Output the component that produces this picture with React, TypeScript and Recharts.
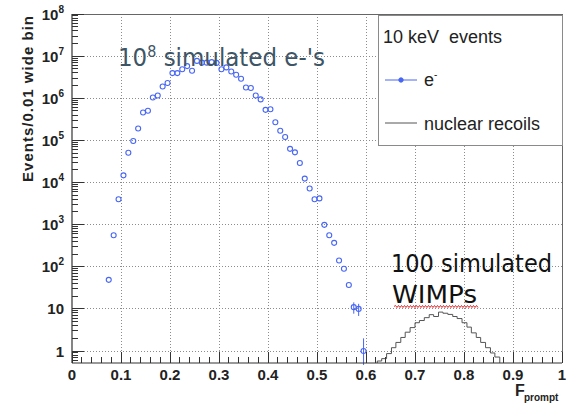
import React from 'react';
import {
  ComposedChart,
  Scatter,
  Line,
  XAxis,
  YAxis,
  ReferenceLine,
  ErrorBar,
  Legend,
} from 'recharts';

// ---------------- data ----------------
const eBinCenters = [
  0.075, 0.085, 0.095, 0.105, 0.115, 0.125, 0.135, 0.145, 0.155, 0.165,
  0.175, 0.185, 0.195, 0.205, 0.215, 0.225, 0.235, 0.245, 0.255, 0.265,
  0.275, 0.285, 0.295, 0.305, 0.315, 0.325, 0.335, 0.345, 0.355, 0.365,
  0.375, 0.385, 0.395, 0.405, 0.415, 0.425, 0.435, 0.445, 0.455, 0.465,
  0.475, 0.485, 0.495, 0.505, 0.515, 0.525, 0.535, 0.545, 0.555, 0.565,
  0.575, 0.585, 0.595,
];
const eCounts = [
  49, 560, 4000, 14800, 51000, 97000, 192000, 461000, 506000, 1040000,
  1160000, 1900000, 2300000, 3950000, 3950000, 4900000, 5800000, 4500000, 7700000, 7000000,
  7000000, 7200000, 6900000, 4900000, 5400000, 4300000, 3600000, 2900000, 1800000, 1750000,
  1160000, 940000, 530000, 550000, 270000, 170000, 120000, 63000, 52000, 29000,
  12400, 7200, 4000, 4200, 990, 560, 370, 141, 90, 37,
  11, 10, 1,
];
// visible error bars (only the low-count bins show them)
const eErrBins = [0.575, 0.585, 0.595];
const eErrValues = [3.3, 3.2, 1];

const nrEdges = [
  0.623, 0.632, 0.642, 0.652, 0.661, 0.671, 0.68, 0.69, 0.7, 0.709,
  0.719, 0.729, 0.738, 0.748, 0.757, 0.767, 0.777, 0.786, 0.796, 0.806,
  0.815, 0.825, 0.834, 0.844, 0.854, 0.863, 0.873,
];
const nrCounts = [
  0.58, 0.66, 0.87, 1.2, 1.6, 2.1, 2.8, 3.6, 4.7, 5.3,
  6.2, 7.3, 6.6, 8.4, 7.9, 7.4, 6.6, 5.9, 4.7, 3.7,
  2.7, 2.1, 1.6, 1.2, 0.9, 0.72,
];

const xTickLabels = ['0', '0.1', '0.2', '0.3', '0.4', '0.5', '0.6', '0.7', '0.8', '0.9', '1'];
const xMajorValues = [0, 0.1, 0.2, 0.3, 0.4, 0.5, 0.6, 0.7, 0.8, 0.9, 1];
const yTickLabels = ['1', '10', '10^2', '10^3', '10^4', '10^5', '10^6', '10^7', '10^8'];
const yMajorValues = [1, 10, 1e2, 1e3, 1e4, 1e5, 1e6, 1e7, 1e8];

const legendTitle = '10 keV  events';
const seriesNames = ['e', 'nuclear recoils'];
const annotationTop = ['10', '8', " simulated e-'s"];
const annotationWimp = ['100 simulated', 'WIMPs'];

// ---------------- styling/layout ----------------
const W = 577;
const H = 403;
const Y_MIN = 0.52;
const Y_MAX = 1e8;
const E_COLOR = '#4866f4';
const NR_COLOR = '#555555';
const AXIS_COLOR = '#333333';
const GRID_COLOR = '#8c8c8c';
const FONT = '"Liberation Sans", Arial, Helvetica, sans-serif';
const COMIC = '"Comic Sans MS", "DejaVu Sans", sans-serif';

const eData = eBinCenters.map((x, i) => {
  const k = eErrBins.indexOf(x);
  const y = eCounts[i];
  let err: number[] = [0, 0];
  if (k >= 0) {
    const e = eErrValues[k];
    err = [Math.min(e, y - Y_MIN * 0.9), e];
  }
  return { x, y, err };
});

const nrData = [
  { x: nrEdges[0], y: Y_MIN },
  ...nrCounts.map((c, i) => ({ x: nrEdges[i], y: c })),
  { x: nrEdges[nrEdges.length - 1], y: nrCounts[nrCounts.length - 1] },
  { x: nrEdges[nrEdges.length - 1], y: Y_MIN },
];

const xTicks: number[] = [];
for (let i = 0; i <= 50; i++) xTicks.push(i / 50);

const yTicks: number[] = [];
for (let k = -1; k <= 7; k++) {
  for (let m = 1; m <= 9; m++) {
    const v = m * Math.pow(10, k);
    if (v >= Y_MIN && v <= Y_MAX) yTicks.push(v);
  }
}
yTicks.push(Y_MAX);

const XTick = (props: any) => {
  const { x, y, payload } = props;
  const idx = Math.round(payload.value * 50);
  const major = idx % 5 === 0;
  return (
    <g>
      <line x1={x} x2={x} y1={y} y2={y - (major ? 11 : 6)} stroke={AXIS_COLOR} strokeWidth={1} shapeRendering="crispEdges" />
      {major && (
        <text x={x} y={y + 17} textAnchor="middle" fontFamily={FONT} fontWeight="bold" fontSize={15} fill="#222">
          {xTickLabels[idx / 5]}
        </text>
      )}
    </g>
  );
};

const YTick = (props: any) => {
  const { x, y, payload } = props;
  const v = payload.value;
  const lg = Math.log10(v);
  const major = Math.abs(lg - Math.round(lg)) < 1e-6;
  let label: React.ReactNode = null;
  if (major) {
    const idx = yMajorValues.findIndex((m) => Math.abs(Math.log10(m) - lg) < 1e-6);
    const parts = yTickLabels[idx].split('^');
    label = (
      <text x={x - 8} y={y + 5.5} textAnchor="end" fontFamily={FONT} fontWeight="bold" fontSize={15} fill="#222">
        <tspan>{parts[0]}</tspan>
        {parts[1] && (
          <tspan dy={-7} fontSize={10}>
            {parts[1]}
          </tspan>
        )}
      </text>
    );
  }
  return (
    <g>
      <line x1={x} x2={x + (major ? 12 : 6)} y1={y} y2={y} stroke={AXIS_COLOR} strokeWidth={1} shapeRendering="crispEdges" />
      {label}
    </g>
  );
};

const renderLegend = () => (
  <div style={{ width: 185, height: 131, background: '#fff', boxSizing: 'border-box', border: '1px solid #8a8a8a' }}>
    <svg width={183} height={129} style={{ display: 'block' }}>
      <text x={4} y={27} fontFamily={FONT} fontSize={18} fill="#222" style={{ whiteSpace: 'pre' }}>
        {legendTitle}
      </text>
      <line x1={6} x2={38} y1={64} y2={64} stroke={E_COLOR} strokeWidth={1} />
      <circle cx={22} cy={64} r={2.2} fill={E_COLOR} stroke={E_COLOR} />
      <text x={45} y={70} fontFamily={FONT} fontSize={18} fill="#222">
        {seriesNames[0]}
        <tspan dy={-8} fontSize={10}>
          -
        </tspan>
      </text>
      <line x1={6} x2={38} y1={107} y2={107} stroke={NR_COLOR} strokeWidth={1} />
      <text x={45} y={114} fontFamily={FONT} fontSize={18} fill="#222">
        {seriesNames[1]}
      </text>
    </svg>
  </div>
);

function wavyPath(x0: number, x1: number, y: number) {
  let d = `M${x0},${y}`;
  let up = true;
  for (let x = x0 + 1.5; x <= x1; x += 1.5) {
    d += ` L${x.toFixed(1)},${(y + (up ? -1 : 1)).toFixed(1)}`;
    up = !up;
  }
  return d;
}

export default function App() {
  return (
    <div style={{ position: 'absolute', left: 0, top: 0, width: W, height: H, background: '#fff' }}>
      <ComposedChart width={W} height={H} margin={{ top: 14, right: 15, bottom: 0, left: 0 }}>
        <XAxis
          type="number"
          dataKey="x"
          domain={[0, 1]}
          allowDataOverflow
          ticks={xTicks}
          interval={0}
          tick={<XTick />}
          tickSize={0}
          tickMargin={0}
          tickLine={false}
          axisLine={{ stroke: AXIS_COLOR, strokeWidth: 1.2 }}
          height={40}
        />
        <YAxis
          type="number"
          dataKey="y"
          scale="log"
          domain={[Y_MIN, Y_MAX]}
          allowDataOverflow
          ticks={yTicks}
          interval={0}
          tick={<YTick />}
          tickSize={0}
          tickMargin={0}
          tickLine={false}
          axisLine={{ stroke: AXIS_COLOR, strokeWidth: 1.2 }}
          width={72}
        />
        {xMajorValues.slice(1, 10).map((v) => (
          <ReferenceLine
            key={'gx' + v}
            x={v}
            stroke={GRID_COLOR}
            strokeDasharray="1 2"
            strokeWidth={1}
            shapeRendering="crispEdges"
            ifOverflow="visible"
          />
        ))}
        {yMajorValues.slice(0, 8).map((v) => (
          <ReferenceLine
            key={'gy' + v}
            y={v}
            stroke={GRID_COLOR}
            strokeDasharray="1 2"
            strokeWidth={1}
            shapeRendering="crispEdges"
            ifOverflow="visible"
          />
        ))}
        <ReferenceLine y={Y_MAX} stroke="#666" strokeWidth={1} shapeRendering="crispEdges" ifOverflow="visible" />
        <ReferenceLine x={1} stroke="#666" strokeWidth={1} shapeRendering="crispEdges" ifOverflow="visible" />
        <Line
          data={nrData}
          dataKey="y"
          type="stepAfter"
          stroke={NR_COLOR}
          strokeWidth={1}
          dot={false}
          isAnimationActive={false}
          name={seriesNames[1]}
        />
        <Scatter
          data={eData}
          dataKey="y"
          name={seriesNames[0]}
          isAnimationActive={false}
          shape={(p: any) => <circle cx={p.cx} cy={p.cy} r={2.5} fill="none" stroke={E_COLOR} strokeWidth={1.1} />}
        >
          <ErrorBar dataKey="err" direction="y" width={0} stroke={E_COLOR} strokeWidth={1} />
        </Scatter>
        <Legend
          layout="vertical"
          align="center"
          verticalAlign="middle"
          content={renderLegend}
          wrapperStyle={{ position: 'absolute', left: 378, top: 15, width: 185, height: 131, margin: 0 }}
        />
      </ComposedChart>
      <svg width={W} height={H} style={{ position: 'absolute', left: 0, top: 0, pointerEvents: 'none' }}>
        <text
          x={33}
          y={99}
          transform="rotate(-90, 33, 99)"
          textAnchor="middle"
          fontFamily={FONT}
          fontWeight="bold"
          fontSize={15}
          fill="#222"
          textLength={166}
          lengthAdjust="spacing"
        >
          Events/0.01 wide bin
        </text>
        <text x={515} y={396} fontFamily={FONT} fontWeight="bold" fontSize={16} fill="#222">
          F
        </text>
        <text x={524} y={401} fontFamily={FONT} fontWeight="bold" fontSize={10} fill="#222">
          prompt
        </text>
        <text x={118} y={66} fontFamily={COMIC} fontSize={24} fill="#3e5566" textLength={207} lengthAdjust="spacingAndGlyphs">
          <tspan>{annotationTop[0]}</tspan>
          <tspan dy={-9} fontSize={15}>
            {annotationTop[1]}
          </tspan>
          <tspan dy={9}>{annotationTop[2]}</tspan>
        </text>
        <text x={391} y={272} fontFamily={COMIC} fontSize={24} fill="#111" textLength={161} lengthAdjust="spacingAndGlyphs">
          {annotationWimp[0]}
        </text>
        <text x={392} y={303} fontFamily={COMIC} fontSize={24} fill="#111" textLength={85} lengthAdjust="spacingAndGlyphs">
          {annotationWimp[1]}
        </text>
        <path d={wavyPath(394, 478, 306.5)} stroke="#e02828" strokeWidth={1} fill="none" />
      </svg>
    </div>
  );
}
